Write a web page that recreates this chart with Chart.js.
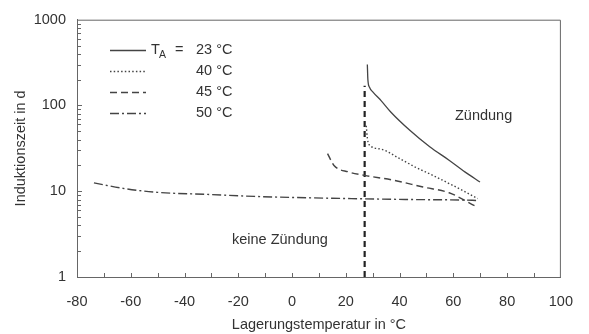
<!DOCTYPE html>
<html>
<head>
<meta charset="utf-8">
<script src="https://cdn.jsdelivr.net/npm/chart.js@4.4.1/dist/chart.umd.min.js"></script>
<style>
html,body{margin:0;padding:0;background:#fff;}
#c{display:block;}
</style>
</head>
<body>
<canvas id="c" width="589" height="334"></canvas>
<script>
// ---- data ----
const seriesLabels = ['23 °C', '40 °C', '45 °C', '50 °C'];

const temp23 = [28.0, 28.2, 28.8, 30.1, 33.1, 36.7, 43.9, 51.2, 58.4, 64.4, 69.9];
const ind23  = [300, 200, 163, 143, 114, 84, 51, 33, 23, 16.7, 12.8];

const temp40 = [27.6, 28.0, 28.6, 33.0, 40.0, 46.0, 52.0, 58.4, 64.0, 69.0];
const ind40  = [58, 42, 35, 31, 24, 19, 15.5, 12.3, 10, 8.2];

const temp45 = [13.2, 15.6, 21.0, 27.0, 38.0, 48.7, 58.4, 68.6];
const ind45  = [27.5, 20, 16.8, 15.3, 13.4, 11.2, 9.6, 6.6];

const temp50 = [-73.7, -62.0, -50.0, -32.0, -14.0, 22.0, 45.0, 63.0, 69.0];
const ind50  = [12.5, 10.7, 9.7, 9.2, 8.7, 8.2, 8.0, 7.9, 7.8];

const boundaryTemp = [27, 27];
const boundaryInd  = [1, 170];

const xTicks = [-80, -60, -40, -20, 0, 20, 40, 60, 80, 100];
const yTicks = [1, 10, 100, 1000];

const FONT = "'Liberation Sans', Arial, sans-serif";
const TXT = '#333';
const LINE = '#444';
const AXIS = '#666';

function pts(xs, ys){ return xs.map((x,i)=>({x:x, y:ys[i]})); }

const styles = [
  {borderDash: [], borderWidth: 1.3},
  {borderDash: [1.5, 2.2], borderWidth: 1.4},
  {borderDash: [7, 4], borderWidth: 1.4},
  {borderDash: [9, 3, 2, 3], borderWidth: 1.4}
];

const datasets = [
  {label: seriesLabels[0], data: pts(temp23, ind23)},
  {label: seriesLabels[1], data: pts(temp40, ind40)},
  {label: seriesLabels[2], data: pts(temp45, ind45)},
  {label: seriesLabels[3], data: pts(temp50, ind50)}
].map((d,i)=>Object.assign(d, {
  borderColor: LINE, borderWidth: styles[i].borderWidth, borderDash: styles[i].borderDash,
  pointRadius: 0, fill: false, cubicInterpolationMode: 'monotone'
}));

datasets.push({
  label: 'Grenze', data: pts(boundaryTemp, boundaryInd),
  borderColor: '#222', borderWidth: 2.2, borderDash: [6, 4], pointRadius: 0, fill: false
});

const decor = {
  id: 'decor',
  afterDraw(chart){
    const ctx = chart.ctx, a = chart.chartArea;
    const xs = chart.scales.x, ys = chart.scales.y;
    ctx.save();
    // frame (top/right)
    ctx.strokeStyle = AXIS; ctx.lineWidth = 1;
    ctx.beginPath();
    ctx.moveTo(a.left, a.top + 0.5); ctx.lineTo(a.right - 0.5, a.top + 0.5); ctx.lineTo(a.right - 0.5, a.bottom);
    ctx.stroke();
    // x ticks inward (every 10)
    ctx.beginPath();
    for (let v = xs.min + 10; v < xs.max; v += 10){
      const px = Math.round(xs.getPixelForValue(v)) + 0.5;
      ctx.moveTo(px, a.bottom); ctx.lineTo(px, a.bottom - 4);
    }
    // y ticks inward (log minor)
    for (let dec = 1; dec < 1000; dec *= 10){
      for (let m = 1; m <= 9; m++){
        const v = dec * m;
        if (v === 1) continue;
        const py = Math.round(ys.getPixelForValue(v)) + 0.5;
        ctx.moveTo(a.left, py); ctx.lineTo(a.left + (m === 1 ? 5 : 4), py);
      }
    }
    ctx.stroke();

    // legend
    const rows = [50, 71, 92, 113];
    ctx.fillStyle = TXT;
    ctx.textBaseline = 'middle';
    ctx.font = "14.5px " + FONT;
    chart.data.datasets.slice(0,4).forEach((ds, i) => {
      const y = rows[i] + 0.5;
      ctx.strokeStyle = ds.borderColor; ctx.lineWidth = ds.borderWidth;
      ctx.setLineDash(ds.borderDash);
      ctx.beginPath(); ctx.moveTo(110, y); ctx.lineTo(146, y); ctx.stroke();
      ctx.setLineDash([]);
      ctx.textAlign = 'left';
      ctx.fillText(ds.label, 196, rows[i]);
    });
    ctx.fillText('T', 151, rows[0]);
    ctx.font = "10.5px " + FONT;
    ctx.fillText('A', 159, rows[0] + 5);
    ctx.font = "14.5px " + FONT;
    ctx.fillText('=', 175, rows[0]);

    // annotations
    ctx.fillText('Zündung', 455, 116);
    ctx.fillText('keine Zündung', 232, 240);
    ctx.restore();
  }
};

new Chart(document.getElementById('c'), {
  type: 'line',
  data: {datasets: datasets},
  options: {
    responsive: false,
    animation: false,
    layout: {padding: {top: 19, right: 14, left: 0, bottom: 0}},
    plugins: {legend: {display: false}, tooltip: {enabled: false}},
    scales: {
      x: {
        type: 'linear', min: -80, max: 100,
        afterBuildTicks: s => { s.ticks = xTicks.map(v => ({value: v})); },
        afterFit: s => { s.height = 57; },
        grid: {display: false, drawTicks: false},
        border: {display: true, color: AXIS, width: 1},
        ticks: {color: TXT, font: {family: FONT, size: 14.5}, padding: 16, maxRotation: 0, autoSkip: false},
        title: {display: true, text: 'Lagerungstemperatur in °C', color: TXT, font: {family: FONT, size: 14.5}, padding: {top: 0, bottom: 0}}
      },
      y: {
        type: 'logarithmic', min: 1, max: 1000,
        afterBuildTicks: s => { s.ticks = yTicks.map(v => ({value: v})); },
        afterFit: s => { s.width = 77; },
        grid: {display: false, drawTicks: false},
        border: {display: true, color: AXIS, width: 1},
        ticks: {color: TXT, font: {family: FONT, size: 14.5}, padding: 11, autoSkip: false,
                callback: v => String(v)},
        title: {display: true, text: 'Induktionszeit in d', color: TXT, font: {family: FONT, size: 14.5}, padding: {top: 12, bottom: 0}}
      }
    }
  },
  plugins: [decor]
});
</script>
</body>
</html>
